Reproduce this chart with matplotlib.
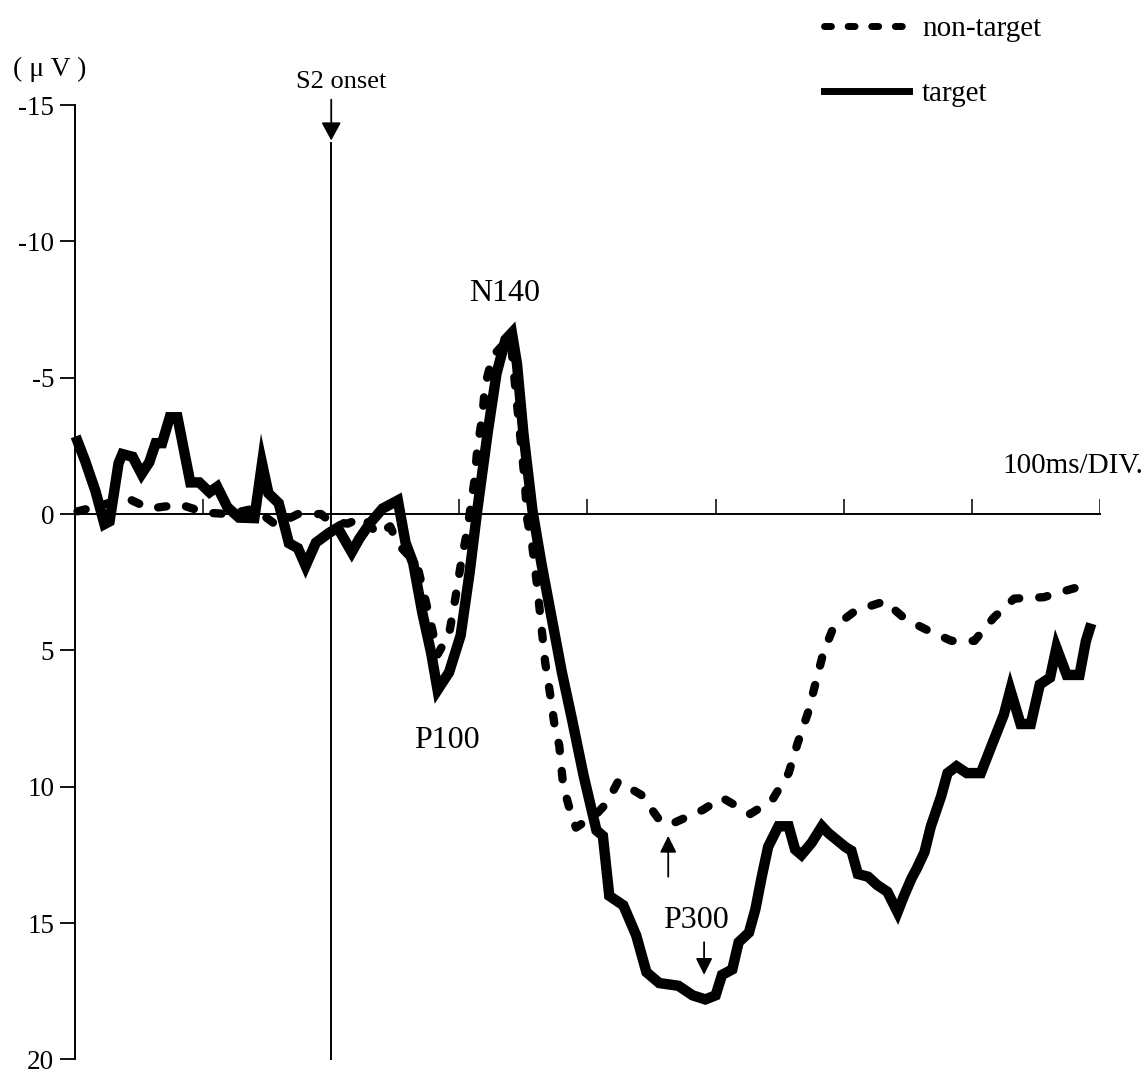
import matplotlib
matplotlib.use("Agg")
import matplotlib.pyplot as plt

# ---------------- data ----------------
time_target = [-198, -192, -184, -177, -173, -166, -163, -155, -148, -142, -137, -132,
               -126, -120, -110, -103, -95, -89, -81, -72, -60, -54, -49, -41, -33,
               -26, -20, -12, -2, 5, 16, 22, 30, 40, 52, 58, 64, 71, 78, 83, 92, 101,
               108, 114, 122, 129, 136, 141, 145, 150, 157, 164, 172, 180, 188, 197,
               207, 212, 217, 228, 238, 246, 256, 271, 282, 292, 300, 305, 313, 318,
               326, 331, 336, 341, 349, 357, 362, 367, 375, 383, 388, 401, 406, 411,
               419, 426, 434, 442, 447, 453, 457, 463, 468, 476, 481, 488, 496, 507,
               517, 525, 530, 538, 546, 553, 561, 566, 574, 584, 589, 592]
amp_target = [-2.67, -1.94, -0.84, 0.37, 0.27, -1.86, -2.2, -2.1, -1.47, -1.9, -2.6, -2.6,
              -3.55, -3.55, -1.16, -1.16, -0.8, -1.0, -0.25, 0.13, 0.15, -1.86, -0.76, -0.4,
              1.07, 1.25, 1.9, 1.05, 0.7, 0.5, 1.4, 0.9, 0.35, -0.2, -0.5, 1.05, 1.8, 3.6,
              5.1, 6.45, 5.8, 4.45, 2.15, -0.15, -2.95, -5.15, -6.4, -6.65, -5.5, -2.95,
              -0.15, 1.8, 3.8, 5.8, 7.55, 9.6, 11.6, 11.8, 14.0, 14.35, 15.45, 16.8, 17.2,
              17.3, 17.65, 17.8, 17.65, 16.9, 16.7, 15.7, 15.35, 14.5, 13.3, 12.2, 11.45,
              11.45, 12.3, 12.5, 12.05, 11.45, 11.7, 12.2, 12.35, 13.2, 13.3, 13.6, 13.85,
              14.6, 14.0, 13.35, 13.0, 12.4, 11.45, 10.35, 9.5, 9.25, 9.5, 9.5, 8.3, 7.35,
              6.45, 7.7, 7.7, 6.25, 6.0, 4.9, 5.9, 5.9, 4.65, 4.2]

time_nontarget = [-198, -181, -160, -142, -118, -98, -80, -60, -43, -26, -8, 0, 13, 25,
                  36, 46, 52, 67, 73, 78, 83, 92, 97, 102, 106, 112, 114, 118, 120, 126,
                  135, 140, 143, 147, 151, 153, 157, 161, 164, 167, 171, 174, 178, 181,
                  188, 191, 207, 215, 224, 242, 255, 264, 271, 290, 305, 327, 344, 357,
                  364, 372, 378, 384, 392, 409, 432, 448, 465, 484, 502, 517, 533, 556,
                  574, 589]
amp_nontarget = [-0.1, -0.3, -0.6, -0.2, -0.35, -0.05, 0.0, -0.2, 0.4, 0.0, 0.0, 0.3, 0.35,
                 0.1, 0.75, 0.45, 1.1, 1.85, 3.05, 4.05, 5.15, 4.4, 3.05, 1.6, 0.65, -1.3,
                 -2.4, -3.6, -4.7, -5.8, -6.25, -6.4, -4.95, -3.1, -1.25, 0.2, 1.2, 2.75,
                 4.1, 5.45, 6.65, 7.65, 8.5, 9.95, 11.15, 11.5, 11.0, 10.6, 9.8, 10.3,
                 11.15, 11.4, 11.25, 10.85, 10.4, 11.0, 10.5, 9.5, 8.4, 7.3, 6.2, 5.1,
                 4.15, 3.55, 3.2, 3.85, 4.25, 4.65, 4.65, 3.8, 3.1, 3.05, 2.8, 2.6]

y_ticks = [-15, -10, -5, 0, 5, 10, 15, 20]
y_tick_labels = ["-15", "-10", "-5", "0", "5", "10", "15", "20"]
x_div_ticks = [-100, 0, 100, 200, 300, 400, 500, 600]
series_labels = ["non-target", "target"]

# ---------------- figure ----------------
plt.rcParams['font.family'] = ['Liberation Serif', 'DejaVu Serif']
fig = plt.figure(figsize=(11.48, 10.75), dpi=100)
ax = fig.add_axes([0.0653, 0.0145, 0.8929, 0.8878])
ax.set_xlim(-200, 600)
ax.set_ylim(20, -15)

for s in ("top", "right", "bottom"):
    ax.spines[s].set_visible(False)
ax.spines["left"].set_linewidth(1.4)
ax.set_xticks([])
ax.set_yticks(y_ticks)
ax.set_yticklabels(y_tick_labels, fontsize=19.5)
ax.tick_params(axis="y", direction="out", length=11, width=1.3, pad=4)

# zero line with 100 ms divisions
ax.plot([-200, 600], [0, 0], color="black", lw=1.4, clip_on=False)
ax.vlines(x_div_ticks, 0, -0.55, color="black", lw=1.1)
ax.text(634, -1.75, "100ms/DIV.", fontsize=21, ha="right", va="center", clip_on=False)

# S2 onset marker
ax.plot([0, 0], [-13.6, 20], color="black", lw=1.4, clip_on=False)
ax.annotate("", xy=(0, -13.6), xytext=(0, -15.3),
            arrowprops=dict(arrowstyle="-|>,head_length=1.1,head_width=0.6",
                            color="black", lw=1.3), annotation_clip=False)
ax.text(8, -15.85, "S2 onset", fontsize=19, ha="center", va="center")
ax.text(-220, -16.3, "( μ V )", fontsize=20, ha="center", va="center",
        clip_on=False)

# curves
ax.plot(time_nontarget, amp_nontarget, color="black", lw=6, linestyle=(0, (1, 2.4)),
        dash_capstyle="round", solid_joinstyle="round", label=series_labels[0],
        clip_on=False)
ax.plot(time_target, amp_target, color="black", lw=7.5, solid_joinstyle="miter",
        label=series_labels[1], clip_on=False)

# component labels
ax.text(135, -8.1, "N140", fontsize=23, ha="center", va="center")
ax.text(90, 8.3, "P100", fontsize=23, ha="center", va="center")
ax.text(285, 14.9, "P300", fontsize=23, ha="center", va="center")
ax.annotate("", xy=(263, 11.7), xytext=(263, 13.4),
            arrowprops=dict(arrowstyle="-|>,head_length=1.0,head_width=0.5",
                            color="black", lw=1.3))
ax.annotate("", xy=(291, 17.0), xytext=(291, 15.6),
            arrowprops=dict(arrowstyle="-|>,head_length=1.0,head_width=0.5",
                            color="black", lw=1.3))

# legend
leg = fig.legend(loc="upper left", bbox_to_anchor=(0.708, 0.996), frameon=False,
                 fontsize=21, handlelength=2.9, labelspacing=1.3, handletextpad=0.45,
                 borderaxespad=0)
for h in leg.legend_handles:
    h.set_linewidth(5)

fig.savefig("out.png", dpi=100)
